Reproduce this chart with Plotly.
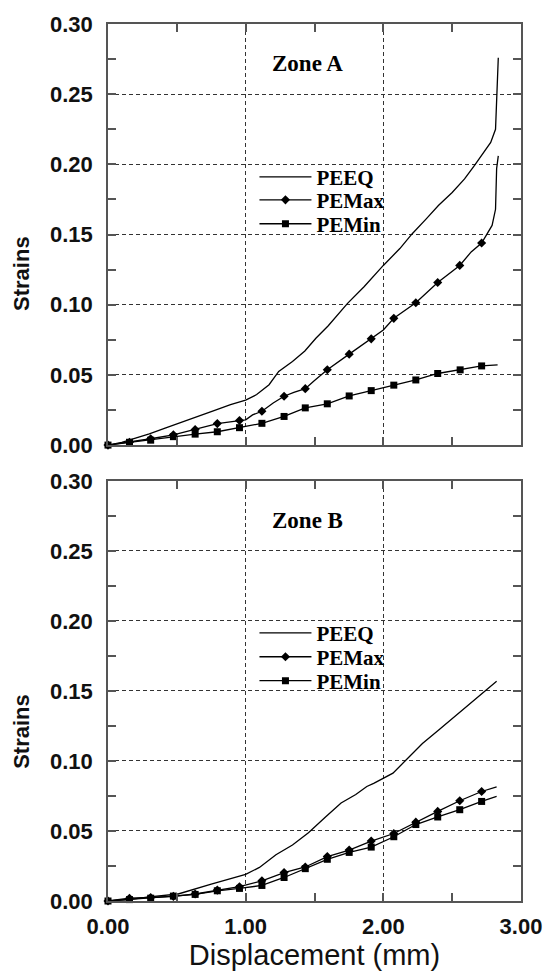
import plotly.graph_objects as go

# ---------------- data ----------------
# Zone A
peeq_a_x = [0.00, 0.10, 0.20, 0.30, 0.42, 0.50, 0.65, 0.77, 0.89, 1.00, 1.08, 1.17, 1.24, 1.34,
            1.43, 1.51, 1.60, 1.74, 1.86, 1.96, 2.00, 2.12, 2.21, 2.31, 2.40, 2.50, 2.59, 2.66,
            2.73, 2.78, 2.815, 2.823, 2.835]
peeq_a_y = [0.000, 0.002, 0.005, 0.008, 0.0123, 0.015, 0.0206, 0.0246, 0.0289, 0.032, 0.036, 0.043,
            0.0525, 0.0596, 0.067, 0.0761, 0.085, 0.101, 0.1128, 0.124, 0.128, 0.140, 0.1506, 0.161,
            0.1707, 0.180, 0.1896, 0.199, 0.2085, 0.2156, 0.225, 0.250, 0.276]

pemax_a_x = [0.00, 0.156, 0.31, 0.475, 0.633, 0.794, 0.955, 1.00, 1.05, 1.118, 1.20, 1.279, 1.35,
             1.433, 1.50, 1.593, 1.752, 1.912, 2.00, 2.076, 2.236, 2.395, 2.555, 2.638, 2.714,
             2.79, 2.815, 2.823, 2.835]
pemax_a_y = [0.000, 0.002, 0.0045, 0.0073, 0.0111, 0.0153, 0.0175, 0.018, 0.0215, 0.0241, 0.030,
             0.0348, 0.0375, 0.0402, 0.046, 0.0537, 0.0648, 0.0757, 0.082, 0.0903, 0.1014, 0.1158,
             0.128, 0.1376, 0.144, 0.1565, 0.168, 0.197, 0.206]
pemax_a_mx = [0.00, 0.156, 0.31, 0.475, 0.633, 0.794, 0.955, 1.118, 1.279, 1.433, 1.593, 1.752,
              1.912, 2.076, 2.236, 2.395, 2.555, 2.714]
pemax_a_my = [0.000, 0.002, 0.0045, 0.0073, 0.0111, 0.0153, 0.0175, 0.0241, 0.0348, 0.0402, 0.0537,
              0.0648, 0.0757, 0.0903, 0.1014, 0.1158, 0.128, 0.144]

pemin_a_x = [0.00, 0.156, 0.31, 0.475, 0.633, 0.794, 0.955, 1.118, 1.279, 1.433, 1.593, 1.752,
             1.912, 2.076, 2.236, 2.395, 2.558, 2.714, 2.83]
pemin_a_y = [0.000, 0.002, 0.0035, 0.006, 0.0078, 0.0095, 0.0124, 0.0155, 0.0204, 0.0265, 0.0294,
             0.035, 0.0388, 0.0427, 0.0464, 0.051, 0.0536, 0.0564, 0.0571]
pemin_a_mx = pemin_a_x[:-1]
pemin_a_my = pemin_a_y[:-1]

# Zone B
peeq_b_x = [0.00, 0.15, 0.30, 0.51, 0.75, 1.00, 1.10, 1.22, 1.34, 1.456, 1.58, 1.693, 1.80, 1.88,
            1.93, 2.00, 2.07, 2.165, 2.284, 2.40, 2.544, 2.66, 2.733, 2.823]
peeq_b_y = [0.000, 0.001, 0.003, 0.005, 0.012, 0.019, 0.024, 0.033, 0.040, 0.0487, 0.060, 0.070,
            0.076, 0.0818, 0.084, 0.0877, 0.0913, 0.1007, 0.1125, 0.122, 0.1338, 0.143, 0.149, 0.157]

pemax_b_x = [0.00, 0.156, 0.31, 0.475, 0.633, 0.794, 0.955, 1.118, 1.279, 1.433, 1.593, 1.752,
             1.912, 2.076, 2.236, 2.395, 2.555, 2.714, 2.823]
pemax_b_y = [0.000, 0.002, 0.0025, 0.0033, 0.005, 0.0078, 0.0102, 0.0144, 0.0203, 0.0243, 0.0317,
             0.0364, 0.0428, 0.0482, 0.0563, 0.064, 0.0716, 0.0782, 0.0815]
pemax_b_mx = pemax_b_x[:-1]
pemax_b_my = pemax_b_y[:-1]

pemin_b_x = [0.00, 0.156, 0.31, 0.475, 0.633, 0.794, 0.955, 1.118, 1.279, 1.433, 1.593, 1.752,
             1.912, 2.076, 2.236, 2.395, 2.555, 2.714, 2.823]
pemin_b_y = [0.000, 0.001, 0.002, 0.0035, 0.0047, 0.0073, 0.009, 0.0111, 0.0168, 0.0231, 0.0298,
             0.0347, 0.0385, 0.0459, 0.0546, 0.060, 0.0652, 0.0711, 0.0747]
pemin_b_mx = pemin_b_x[:-1]
pemin_b_my = pemin_b_y[:-1]

series_names = ["PEEQ", "PEMax", "PEMin"]
zone_labels = ["Zone A", "Zone B"]
x_ticks = [0, 1, 2, 3]
y_ticks = [0.00, 0.05, 0.10, 0.15, 0.20, 0.25, 0.30]

# ---------------- figure ----------------
W, H = 554, 974
ML, MR, MT, MB = 108, 23, 21, 72
PH = H - MT - MB


def py2paper(py):
    return (H - MB - py) / PH


def px2paper(px):
    return (px - ML) / (W - ML - MR)


def gapped(xs, ys):
    gx, gy = [], []
    for a, b in zip(xs, ys):
        gx += [a, None]
        gy += [b, None]
    return gx, gy


fig = go.Figure()
LW = 1.3
BLACK = "black"

panels = [
    ("x", "y", peeq_a_x, peeq_a_y, pemax_a_x, pemax_a_y, pemax_a_mx, pemax_a_my,
     pemin_a_x, pemin_a_y, pemin_a_mx, pemin_a_my, ["legend", "legend2", "legend3"]),
    ("x2", "y2", peeq_b_x, peeq_b_y, pemax_b_x, pemax_b_y, pemax_b_mx, pemax_b_my,
     pemin_b_x, pemin_b_y, pemin_b_mx, pemin_b_my, ["legend4", "legend5", "legend6"]),
]

for (xa, ya, pqx, pqy, mxx, mxy, mxmx, mxmy, mnx, mny, mnmx, mnmy, legs) in panels:
    fig.add_trace(go.Scatter(x=pqx, y=pqy, xaxis=xa, yaxis=ya, mode="lines",
                             line=dict(color=BLACK, width=LW), name=series_names[0],
                             legend=legs[0], cliponaxis=False))
    fig.add_trace(go.Scatter(x=mxx, y=mxy, xaxis=xa, yaxis=ya, mode="lines",
                             line=dict(color=BLACK, width=LW), showlegend=False, cliponaxis=False))
    gx, gy = gapped(mxmx, mxmy)
    fig.add_trace(go.Scatter(x=gx, y=gy, xaxis=xa, yaxis=ya, mode="lines+markers",
                             line=dict(color=BLACK, width=LW), connectgaps=False,
                             marker=dict(symbol="diamond", size=7, color=BLACK),
                             name=series_names[1], legend=legs[1], cliponaxis=False))
    fig.add_trace(go.Scatter(x=mnx, y=mny, xaxis=xa, yaxis=ya, mode="lines",
                             line=dict(color=BLACK, width=LW), showlegend=False, cliponaxis=False))
    gx, gy = gapped(mnmx, mnmy)
    fig.add_trace(go.Scatter(x=gx, y=gy, xaxis=xa, yaxis=ya, mode="lines+markers",
                             line=dict(color=BLACK, width=LW), connectgaps=False,
                             marker=dict(symbol="square", size=7, color=BLACK),
                             name=series_names[2], legend=legs[2], cliponaxis=False))

top_dom = [py2paper(444), 1.0]
bot_dom = [0.0, py2paper(480)]

tickfont = dict(family="Liberation Sans", size=22, color="#111", weight="bold")
axcol = "#555"

common_x = dict(range=[0, 3], tickvals=x_ticks, tickformat=".2f", ticks="inside", ticklen=8,
                tickcolor=axcol, tickwidth=1.5, showline=True, linecolor=axcol, linewidth=1.5,
                mirror="ticks", showgrid=True, gridcolor="#333", gridwidth=1, griddash="4px,3px",
                minor=dict(dtick=0.5, ticks="inside", ticklen=8, tickcolor=axcol, tickwidth=1.5,
                           showgrid=False),
                zeroline=False, tickfont=tickfont, ticklabelstandoff=5)
common_y = dict(range=[0, 0.30], tickvals=y_ticks, tickformat=".2f", ticks="inside", ticklen=8,
                tickcolor=axcol, tickwidth=1.5, showline=True, linecolor=axcol, linewidth=1.5,
                mirror="ticks", showgrid=True, gridcolor="#333", gridwidth=1, griddash="4px,3px",
                minor=dict(dtick=0.025, ticks="inside", ticklen=8, tickcolor=axcol, tickwidth=1.5,
                           showgrid=False),
                zeroline=False, tickfont=tickfont, ticklabelstandoff=9)

fig.update_layout(
    width=W, height=H,
    margin=dict(l=ML, r=MR, t=MT, b=MB),
    paper_bgcolor="white", plot_bgcolor="white",
    xaxis=dict(common_x, domain=[0, 1], anchor="y", showticklabels=False),
    yaxis=dict(common_y, domain=top_dom, anchor="x"),
    xaxis2=dict(common_x, domain=[0, 1], anchor="y2",
                title=dict(text="Displacement (mm)",
                           font=dict(family="Liberation Sans", size=29, color="#111"),
                           standoff=3)),
    yaxis2=dict(common_y, domain=bot_dom, anchor="x2"),
)

legfont = dict(family="Liberation Serif", size=21, color="black", weight="bold")
leg_x = px2paper(258)
rows_top = [175, 198, 222]
rows_bot = [633, 657, 681]
leg_names = ["legend", "legend2", "legend3", "legend4", "legend5", "legend6"]
for name, py in zip(leg_names, rows_top + rows_bot):
    fig.update_layout({name: dict(x=leg_x, y=py2paper(py), xanchor="left", yanchor="middle",
                                  bgcolor="rgba(0,0,0,0)", borderwidth=0, font=legfont,
                                  itemwidth=52, tracegroupgap=0)})

for lab, xa, ya in zip(zone_labels, ["x", "x2"], ["y", "y2"]):
    fig.add_annotation(x=1.45, y=0.272, xref=xa, yref=ya, text=lab, showarrow=False,
                       font=dict(family="Liberation Serif", size=23, color="black", weight="bold"))

# y-axis titles ("Strains"), placed a little below each panel's centre as in the reference
for py in [272, 732]:
    fig.add_annotation(x=px2paper(20), y=py2paper(py), xref="paper", yref="paper",
                       text="Strains", textangle=-90, showarrow=False,
                       xanchor="center", yanchor="middle",
                       font=dict(family="Liberation Sans", size=22, color="#111", weight="bold"))

fig.write_html("out.html", config={"displayModeBar": False},
               post_script="document.body.style.margin='0';"
               "document.body.style.overflow='hidden';")
